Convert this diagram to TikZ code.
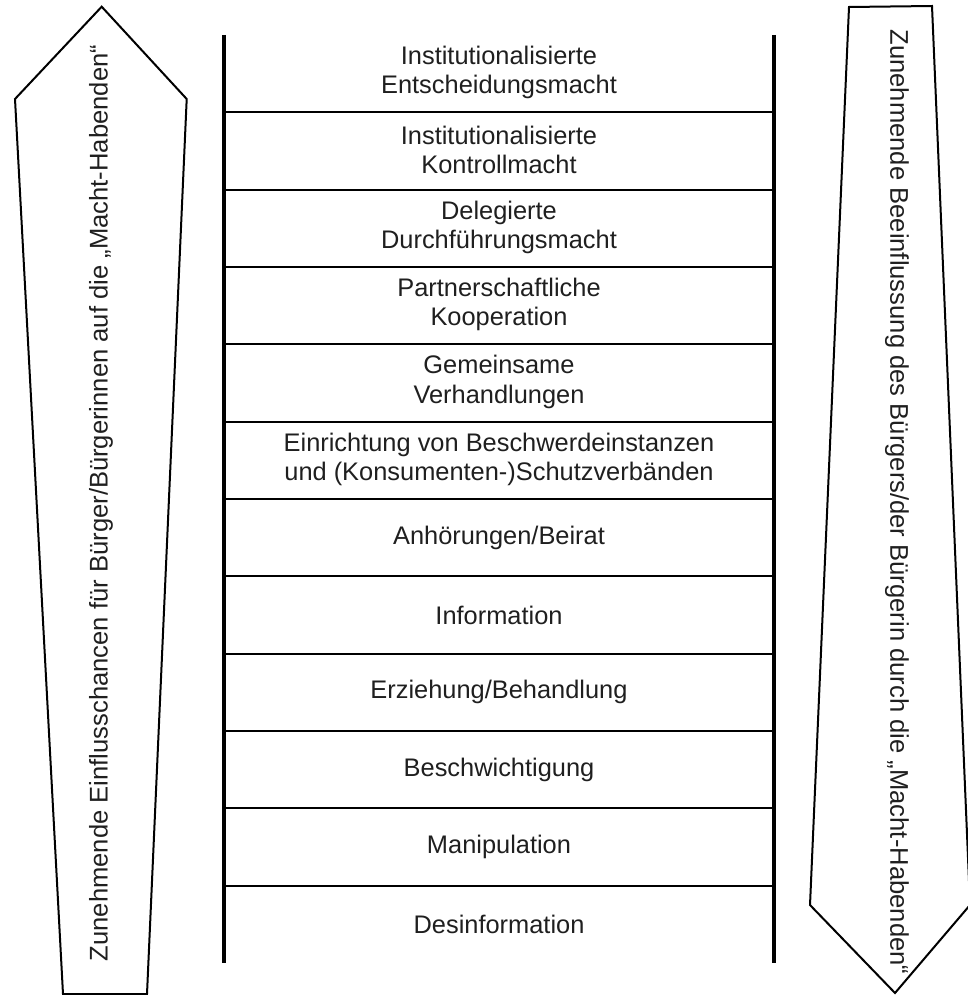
\documentclass[tikz,border=0pt]{standalone}
\usepackage{fontspec}
\setmainfont{Liberation Sans}
\begin{document}
\begin{tikzpicture}[x=1pt,y=-1pt,
  rail/.style={line width=4pt},
  rung/.style={line width=2pt},
  arrowshape/.style={line width=2pt, line join=miter},
  lbl/.style={align=center, font=\fontsize{25.4}{29.5}\selectfont, text=black!88, inner sep=0pt},
  side/.style={font=\fontsize{25.6}{29}\selectfont, text=black!88, inner sep=0pt}]
\useasboundingbox (0,0) rectangle (967,995);
% ladder rails
\coordinate (LT) at (224,35);
\coordinate (LB) at (224,963);
\coordinate (RT) at (774,35);
\coordinate (RB) at (774,963);
\draw[rail] (LT) -- (LB);
\draw[rail] (RT) -- (RB);
% rungs
\foreach \i in {1,...,11}{
  \coordinate (a\i) at (224,{35+\i*77.33});
  \coordinate (b\i) at (774,{35+\i*77.33});
  \draw[rung] (a\i) -- (b\i);
}
% labels
\node[lbl] (t1) at (499,{34+0.5*77.33}) {Institutionalisierte\\Entscheidungsmacht};
\node[lbl] (t2) at (499,{34+1.5*77.33}) {Institutionalisierte\\Kontrollmacht};
\node[lbl] (t3) at (499,{34+2.5*77.33}) {Delegierte\\Durchführungsmacht};
\node[lbl] (t4) at (499,{34+3.5*77.33}) {Partnerschaftliche\\Kooperation};
\node[lbl] (t5) at (499,{34+4.5*77.33}) {Gemeinsame\\Verhandlungen};
\node[lbl] (t6) at (499,{34+5.5*77.33}) {Einrichtung von Beschwerdeinstanzen\\und (Konsumenten-)Schutzverbänden};
\node[lbl] (t7) at (499,{35+6.5*77.33}) {Anhörungen/Beirat};
\node[lbl] (t8) at (499,{35+7.5*77.33}) {Information};
\node[lbl] (t9) at (499,{35+8.5*77.33}) {Erziehung/Behandlung};
\node[lbl] (t10) at (499,{35+9.5*77.33}) {Beschwichtigung};
\node[lbl] (t11) at (499,{35+10.5*77.33}) {Manipulation};
\node[lbl] (t12) at (499,{35+11.5*77.33}) {Desinformation};
% left arrow (pointing up)
\draw[arrowshape] (101.7,6.7) -- (186.7,99) -- (147,994) -- (63,994) -- (15,99) -- cycle;
\node[side, rotate=90] (lefttext) at (101,503) {Zunehmende Einflusschancen für Bürger/Bürgerinnen auf die „Macht-Habenden“};
% right arrow (pointing down)
\draw[arrowshape] (849,7) -- (932,6) -- (970,905) -- (895,993) -- (810,905) -- cycle;
\node[side, rotate=-90] (righttext) at (897,502) {Zunehmende Beeinflussung des Bürgers/der Bürgerin durch die „Macht-Habenden“};
\end{tikzpicture}
\end{document}
